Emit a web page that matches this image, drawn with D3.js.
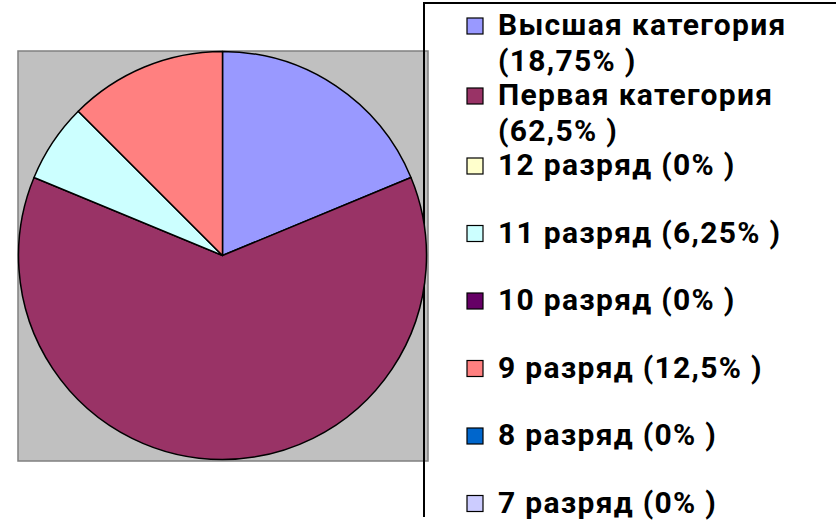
<!DOCTYPE html>
<html>
<head>
<meta charset="utf-8">
<script src="https://cdn.jsdelivr.net/npm/d3@7/dist/d3.min.js"></script>
<style>
  html, body { margin: 0; padding: 0; background: #ffffff; }
  svg { display: block; }
</style>
</head>
<body>
<svg id="chart" width="836" height="526"></svg>
<script>
// ---- data ----
const categories = ["Высшая категория", "Первая категория", "12 разряд", "11 разряд",
                    "10 разряд", "9 разряд", "8 разряд", "7 разряд"];
const values = [18.75, 62.5, 0, 6.25, 0, 12.5, 0, 0];
const colors = ["#9999ff", "#993366", "#ffffcc", "#ccffff", "#660066", "#ff8080", "#0066cc", "#ccccff"];

// ---- layout ----
const W = 836, H = 526;
const plot = { x0: 18, y0: 51, x1: 428, y1: 461 };
const cx = 222.5, cy = 255.5, R = 204;
const legendLineX = 424, legendTopY = 3, legendBottomY = 517;
const markerX = 467, markerSize = 16, textX = 498;
const fontSize = 30, letterSpacing = 1.3, maxTextWidth = 320;
const firstBaseline = 35, wrapLineH = 36, wrappedStep = 70, singleStep = 67.5;

const ru = d3.formatLocale({ decimal: ",", thousands: " ", grouping: [3], currency: ["", ""] });
const fmt = v => ru.format("~r")(v);

const svg = d3.select("#chart");

// plot area
svg.append("rect")
  .attr("x", plot.x0).attr("y", plot.y0)
  .attr("width", plot.x1 - plot.x0).attr("height", plot.y1 - plot.y0)
  .attr("fill", "#c0c0c0").attr("stroke", "#808080").attr("stroke-width", 1.5);

// legend frame (only left/top visible)
svg.append("path")
  .attr("d", `M${legendLineX},${legendBottomY}V${legendTopY}H${W + 5}`)
  .attr("fill", "none").attr("stroke", "#000").attr("stroke-width", 2);

// pie
const pie = d3.pie().sort(null).value(d => d.v);
const arc = d3.arc().innerRadius(0).outerRadius(R);
const data = categories.map((c, i) => ({ c, v: values[i], col: colors[i] }));
svg.append("g").attr("transform", `translate(${cx},${cy})`)
  .selectAll("path").data(pie(data).filter(d => d.data.v > 0)).join("path")
  .attr("d", arc)
  .attr("fill", d => d.data.col)
  .attr("stroke", "#000").attr("stroke-width", 1.5).attr("stroke-linejoin", "round");

// legend
const lg = svg.append("g")
  .attr("font-family", "Roboto, 'Noto Sans', sans-serif")
  .attr("font-weight", "bold")
  .attr("font-size", fontSize)
  .attr("letter-spacing", letterSpacing)
  .attr("fill", "#000");

let y = firstBaseline;
data.forEach((d, i) => {
  const full = `${d.c} (${fmt(d.v)}% )`;
  const t = lg.append("text").attr("x", textX).attr("y", y).text(full);
  let lines = 1;
  if (t.node().getComputedTextLength() > maxTextWidth) {
    t.text(null);
    t.append("tspan").attr("x", textX).attr("y", y).text(d.c);
    t.append("tspan").attr("x", textX).attr("y", y + wrapLineH).text(`(${fmt(d.v)}% )`);
    lines = 2;
  }
  lg.append("rect")
    .attr("x", markerX).attr("y", y - markerSize - 1)
    .attr("width", markerSize).attr("height", markerSize)
    .attr("fill", d.col).attr("stroke", "#000").attr("stroke-width", 1.2);
  y += lines > 1 ? wrappedStep : singleStep;
});
</script>
</body>
</html>
